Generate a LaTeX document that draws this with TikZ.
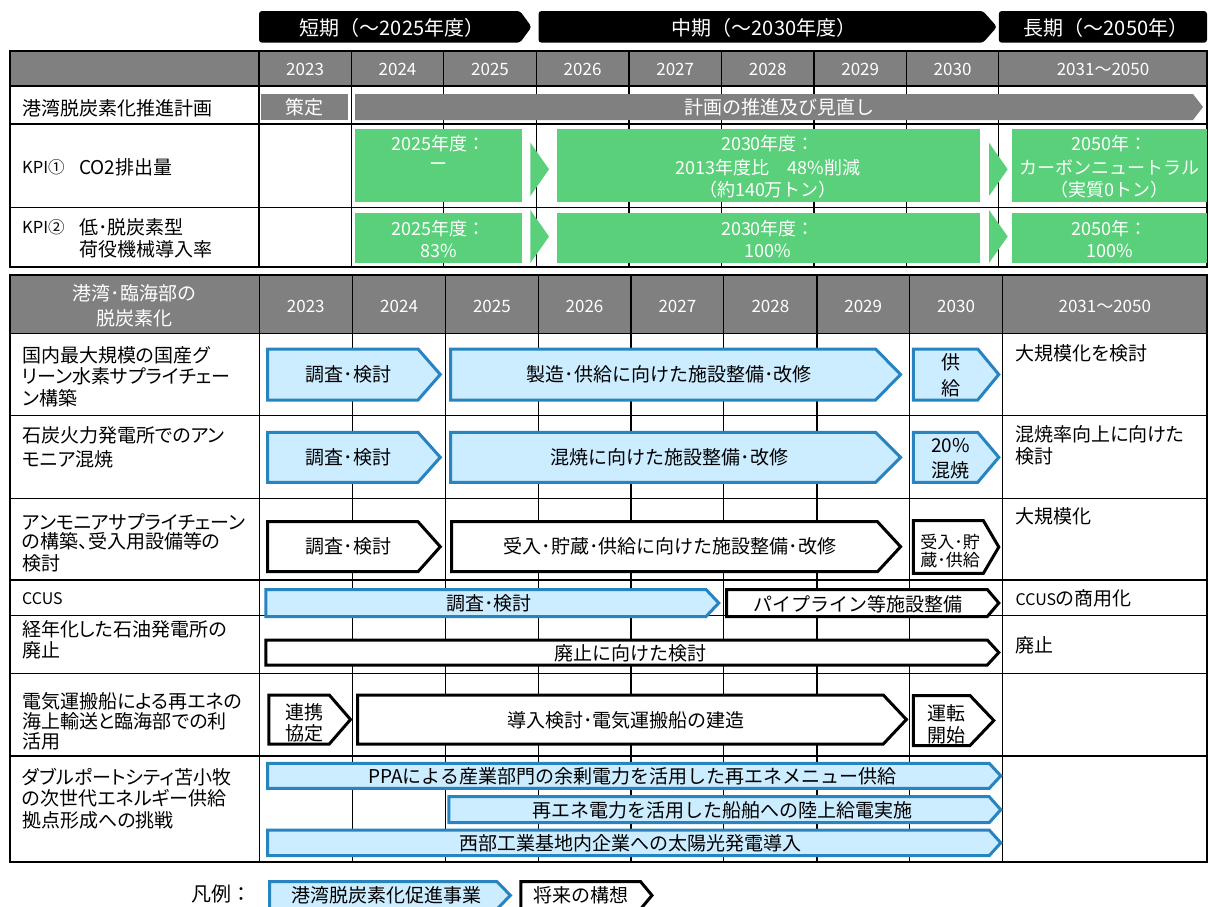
\documentclass[tikz,border=0pt]{standalone}
\usepackage{fontspec}
\setmainfont{Noto Sans CJK JP}
\newfontfamily\jpp[RawFeature=+palt]{Noto Sans CJK JP}
\definecolor{tgray}{RGB}{128,128,128}
\definecolor{kgreen}{RGB}{90,208,122}
\definecolor{lblue}{RGB}{204,236,255}
\definecolor{dblue}{RGB}{40,132,192}
\newcommand\chev[6]{\draw[#1] (#2,#3) -- (#4,#3) -- (#5,{(#3+#6)/2}) -- (#4,#6) -- (#2,#6) -- cycle;}
\begin{document}
\begin{tikzpicture}[x=1pt,y=-1pt,
  lab/.style={anchor=west,inner sep=0pt,font=\jpp\fontsize{19}{22}\selectfont},
  labs/.style={anchor=west,inner sep=0pt,font=\jpp\fontsize{16.5}{19}\selectfont},
  txt/.style={inner sep=0pt,font=\fontsize{19}{22}\selectfont},
  stxt/.style={inner sep=0pt,font=\fontsize{17}{20}\selectfont},
  wtxt/.style={txt,text=white},
  yr/.style={inner sep=0pt,text=white,font=\fontsize{17}{19}\selectfont},
  gtxt/.style={inner sep=0pt,text=white,font=\fontsize{18}{21}\selectfont},
  hdr/.style={inner sep=0pt,text=white,font=\fontsize{20}{24}\selectfont},
  bluebox/.style={fill=lblue,draw=dblue,line width=3pt},
  blackbox/.style={fill=white,draw=black,line width=3pt},
  gridline/.style={line width=1.2pt},
  frame/.style={line width=2pt},
]
\useasboundingbox (0,0) rectangle (1208,906);
\clip (0,0) rectangle (1208,906);

% ---------- period header ----------
\fill[black,rounded corners=3pt] (259,11) -- (520,11) -- (531.6,26.9) -- (520,42.7) -- (259,42.7) -- cycle;
\fill[black,rounded corners=3pt] (538.5,11) -- (983,11) -- (997,26.9) -- (983,42.7) -- (538.5,42.7) -- cycle;
\fill[black,rounded corners=3pt] (998.8,11) rectangle (1207,42.7);
\node[hdr] (hs) at (392,28) {短期（～2025年度）};
\node[hdr] (hm) at (764,28) {中期（～2030年度）};
\node[hdr] (hl) at (1106,28) {長期（～2050年）};

% ---------- upper table ----------
\fill[tgray] (10,50.7) rectangle (1207,86);
\foreach \y in {86,124,207.7} \draw[gridline] (10,\y) -- (1207,\y);
\foreach \x in {258.9,351.3,443.8,536.2,629,721.5,814,906.4,998.8} \draw[gridline] (\x,50.7) -- (\x,266.7);
\draw[frame] (10,50.7) rectangle (1207,266.7);
\foreach \x/\t [count=\i] in {305.1/2023,397.5/2024,490/2025,582.6/2026,675.2/2027,767.7/2028,860.2/2029,952.6/2030,1103/2031～2050}
  \node[yr] (uy\i) at (\x,69.5) {\t};

\fill[tgray] (261,94) rectangle (347.5,120);
\fill[tgray] (355,94) -- (1193,94) -- (1203,107) -- (1193,120) -- (355,120) -- cycle;
\node[wtxt] (sd) at (304,107) {策定};
\node[wtxt] (sm) at (779,107) {計画の推進及び見直し};

% KPI boxes
\fill[kgreen] (355,129.3) rectangle (522,201.7);
\fill[kgreen] (530.4,142.7) -- (549,169.3) -- (530.4,196) -- cycle;
\fill[kgreen] (556.6,129.3) rectangle (979.6,201.7);
\fill[kgreen] (989,142.7) -- (1007.7,169.3) -- (989,196) -- cycle;
\fill[kgreen] (1012,129.3) rectangle (1207,201.7);
\fill[kgreen] (355,213.3) rectangle (522,262.7);
\fill[kgreen] (530.4,210) -- (549,236.5) -- (530.4,263) -- cycle;
\fill[kgreen] (556.6,213.3) rectangle (979.6,262.7);
\fill[kgreen] (989,210) -- (1007.7,236.5) -- (989,263) -- cycle;
\fill[kgreen] (1012,213.3) rectangle (1207,262.7);

\node[gtxt] (g1a) at (438.5,144) {2025年度：};
\node[gtxt] (g1b) at (438.5,166.7) {ー};
\node[gtxt] (g2a) at (768,144) {2030年度：};
\node[gtxt] (g2b) at (768,167.7) {2013年度比　48\%削減};
\node[gtxt] (g2c) at (768,190) {（約140万トン）};
\node[gtxt] (g3a) at (1109.5,144) {2050年：};
\node[gtxt] (g3b) at (1109.5,167.7) {カーボンニュートラル};
\node[gtxt] (g3c) at (1109.5,190) {（実質0トン）};
\node[gtxt] (g4a) at (438.5,228.3) {2025年度：};
\node[gtxt] (g4b) at (438.5,251) {83\%};
\node[gtxt] (g5a) at (768,228.3) {2030年度：};
\node[gtxt] (g5b) at (768,251) {100\%};
\node[gtxt] (g6a) at (1109.5,228.3) {2050年：};
\node[gtxt] (g6b) at (1109.5,251) {100\%};

\node[lab] (u1) at (22,108.3) {港湾脱炭素化推進計画};
\node[labs] (k1a) at (22,167.7) {KPI①};
\node[lab] (k1b) at (79,167.7) {CO2排出量};
\node[labs] (k2a) at (22,227.3) {KPI②};
\node[lab] (k2b) at (79,227.3) {低･脱炭素型};
\node[lab] (k2c) at (79,249.3) {荷役機械導入率};

% ---------- lower table ----------
\fill[tgray] (10,275) rectangle (1207,333.3);
\foreach \y in {333.3,415.7,498.3,580,615.7,673.3,756} \draw[gridline] (10,\y) -- (1207,\y);
\foreach \x in {259.2,352.5,445.7,538.1,631,723.8,817,909.5,1002.7} \draw[gridline] (\x,275) -- (\x,861.7);
\draw[frame] (10,275) rectangle (1207,861.7);
\node[wtxt] (lh1) at (134.5,293.3) {港湾･臨海部の};
\node[wtxt] (lh2) at (134.5,318.3) {脱炭素化};
\foreach \x/\t [count=\i] in {305.8/2023,399.1/2024,491.9/2025,584.5/2026,677.4/2027,770.4/2028,863.2/2029,956.1/2030,1104.8/2031～2050}
  \node[yr] (ly\i) at (\x,306.7) {\t};

% row: hydrogen
\node[lab] (r1a) at (22,355) {国内最大規模の国産グ};
\node[lab] (r1b) at (22,376.5) {リーン水素サプライチェー};
\node[lab] (r1c) at (22,398.3) {ン構築};
\chev{bluebox}{267.7}{349}{418}{440.3}{400}
\chev{bluebox}{450.7}{349}{875.6}{900.6}{400}
\chev{bluebox}{913.3}{349}{977.7}{998.8}{400}
\node[txt] (b11) at (348.5,374.5) {調査･検討};
\node[txt] (b12) at (669.4,374.5) {製造･供給に向けた施設整備･改修};
\node[txt] (b13a) at (950.7,362.7) {供};
\node[txt] (b13b) at (950.7,388.3) {給};
\node[lab] (e1) at (1015.4,353.3) {大規模化を検討};

% row: ammonia co-firing
\node[lab] (r2a) at (22,435.7) {石炭火力発電所でのアン};
\node[lab] (r2b) at (22,459.3) {モニア混焼};
\chev{bluebox}{267.7}{432.3}{418}{440.3}{482.3}
\chev{bluebox}{450.7}{432.3}{875.6}{900.6}{482.3}
\chev{bluebox}{913.3}{432.3}{977.7}{998.8}{482.3}
\node[txt] (b21) at (348.5,457.3) {調査･検討};
\node[txt] (b22) at (669.4,457.3) {混焼に向けた施設整備･改修};
\node[txt] (b23a) at (950.7,446) {20\%};
\node[txt] (b23b) at (950.7,470) {混焼};
\node[lab] (e2a) at (1015.4,434) {混焼率向上に向けた};
\node[lab] (e2b) at (1015.4,456.7) {検討};

% row: ammonia supply chain
\node[lab] (r3a) at (22,521.7) {アンモニアサプライチェーン};
\node[lab] (r3b) at (22,541.7) {の構築、受入用設備等の};
\node[lab] (r3c) at (22,563.3) {検討};
\chev{blackbox}{267.7}{521.7}{418}{440.3}{571.7}
\chev{blackbox}{451.5}{521.7}{877.5}{900.6}{571.7}
\chev{blackbox}{913.3}{520.7}{983.4}{998.8}{573.3}
\node[txt] (b31) at (348.5,546.7) {調査･検討};
\node[txt] (b32) at (670,546.7) {受入･貯蔵･供給に向けた施設整備･改修};
\node[stxt] (b33a) at (950,542.3) {受入･貯};
\node[stxt] (b33b) at (950,560) {蔵･供給};
\node[lab] (e3) at (1015.4,516.7) {大規模化};

% row: CCUS
\node[lab,font=\jpp\fontsize{16}{19}\selectfont] (r4a) at (22,599) {CCUS};
\chev{bluebox}{265.8}{589.5}{706}{718.8}{616.5}
\chev{blackbox}{726.5}{589.5}{987.3}{998.8}{616.5}
\node[txt] (b41) at (489,603.5) {調査･検討};
\node[txt] (b42) at (858,604) {パイプライン等施設整備};
\node[lab] (e4) at (1015.4,598) {{\fontsize{16}{19}\selectfont CCUS}の商用化};

% row: old oil power plant
\node[lab] (r5a) at (22,629.3) {経年化した石油発電所の};
\node[lab] (r5b) at (22,650) {廃止};
\chev{blackbox}{265.8}{640}{987.3}{998.8}{665}
\node[txt] (b51) at (630,653.5) {廃止に向けた検討};
\node[lab] (e5) at (1015.4,645.7) {廃止};

% row: electric carrier ship
\node[lab] (r6a) at (22,701.7) {電気運搬船による再エネの};
\node[lab] (r6b) at (22,721.7) {海上輸送と臨海部での利};
\node[lab] (r6c) at (22,741.7) {活用};
\chev{blackbox}{268.9}{695}{329.3}{350.5}{744}
\chev{blackbox}{357.5}{695}{883.3}{906.4}{744}
\chev{blackbox}{913.3}{695.5}{970}{993.8}{745.5}
\node[txt] (b61a) at (304,712.3) {連携};
\node[txt] (b61b) at (304,733.3) {協定};
\node[txt] (b62) at (626,720.5) {導入検討･電気運搬船の建造};
\node[txt] (b63a) at (946.5,713.3) {運転};
\node[txt] (b63b) at (946.5,735) {開始};

% row: double port city
\node[lab] (r7a) at (22,776.7) {ダブルポートシティ苫小牧};
\node[lab] (r7b) at (22,798.3) {の次世代エネルギー供給};
\node[lab] (r7c) at (22,820) {拠点形成への挑戦};
\chev{bluebox}{267.7}{763.3}{989.2}{1000.8}{788.3}
\chev{bluebox}{448.8}{796.7}{989.2}{1000.8}{822.7}
\chev{bluebox}{267.7}{830}{989.2}{1000.8}{855.7}
\node[txt] (b71) at (632,776.3) {PPAによる産業部門の余剰電力を活用した再エネメニュー供給};
\node[txt] (b72) at (722,810.2) {再エネ電力を活用した船舶への陸上給電実施};
\node[txt] (b73) at (630,843.3) {西部工業基地内企業への太陽光発電導入};

% ---------- legend ----------
\node[inner sep=0pt,font=\fontsize{20}{24}\selectfont] (lg) at (221,894) {凡例：};
\chev{bluebox}{269.6}{881.7}{497}{510.4}{909}
\chev{blackbox}{520.8}{881.7}{640.6}{652}{909}
\node[txt] (lg1) at (386,895) {港湾脱炭素化促進事業};
\node[txt] (lg2) at (581,895) {将来の構想};
\end{tikzpicture}
\end{document}
